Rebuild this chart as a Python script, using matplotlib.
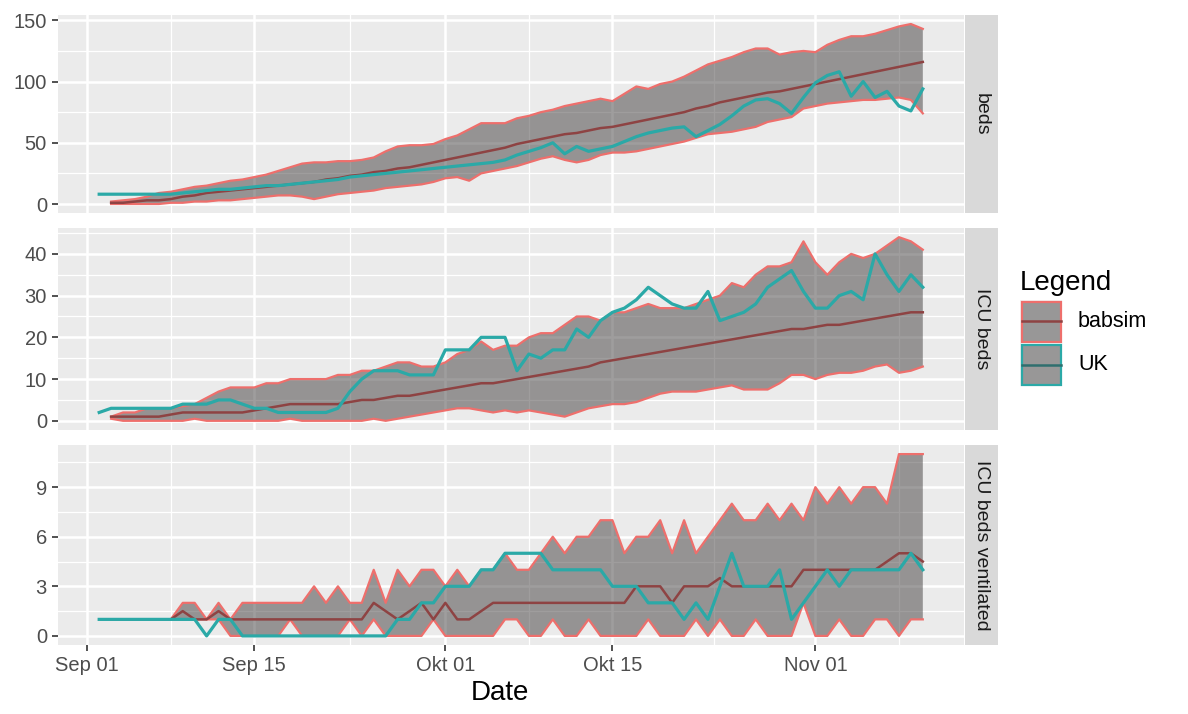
import numpy as np
import matplotlib
matplotlib.use("Agg")
import matplotlib.pyplot as plt
import matplotlib.dates as mdates
from matplotlib.patches import Rectangle
from matplotlib.lines import Line2D

plt.rcParams['font.family'] = ['Liberation Sans', 'DejaVu Sans']

# ---------------- data ----------------
panel_names = ["beds", "ICU beds", "ICU beds ventilated"]
legend_labels = ["babsim", "UK"]
uk_start = "2020-09-02"   # first UK observation
sim_start = "2020-09-03"  # first babsim value

# beds
uk_beds = [8, 8, 8, 8, 8, 8, 8, 9, 10, 11,
           12, 12, 13, 14, 15, 15, 16, 17, 18, 19,
           20, 22, 23, 24, 25, 26, 27, 28, 29, 30,
           31, 32, 33, 34, 36, 40, 43, 46, 50, 41,
           47, 43, 45, 47, 51, 55, 58, 60, 62, 63,
           55, 60, 65, 72, 80, 85, 86, 82, 74, 87,
           99, 105, 108, 88, 100, 87, 92, 80, 76, 94]
sim_beds_med = [1, 1, 2, 3, 3, 4, 6, 7, 9,
                10, 11, 12, 13, 14, 15, 16, 17, 18, 20,
                21, 23, 24, 26, 27, 29, 30, 32, 34, 36,
                38, 40, 42, 44, 46, 49, 51, 53, 55, 57,
                58, 60, 62, 63, 65, 67, 69, 71, 73, 75,
                78, 80, 83, 85, 87, 89, 91, 92, 94, 96,
                98, 100, 102, 104, 106, 108, 110, 112, 114, 116]
sim_beds_hi = [2, 3, 4, 6, 9, 10, 12, 14, 15,
               17, 19, 20, 22, 24, 27, 30, 33, 34, 34,
               35, 35, 36, 38, 43, 47, 48, 48, 49, 53,
               56, 61, 66, 66, 66, 70, 72, 75, 77, 80,
               82, 84, 86, 84, 90, 96, 94, 98, 100, 104,
               109, 114, 117, 120, 124, 127, 127, 122, 124, 125,
               124, 130, 134, 137, 137, 139, 142, 145, 147, 143]
sim_beds_lo = [0, 0, 0, 0, 0, 1, 1, 2, 2,
               3, 3, 4, 5, 6, 7, 7, 6, 4, 6,
               8, 9, 10, 11, 13, 14, 15, 16, 18, 21,
               22, 19, 25, 27, 29, 31, 34, 37, 39, 36,
               34, 36, 40, 42, 42, 43, 45, 47, 49, 51,
               54, 57, 58, 59, 61, 63, 67, 69, 71, 78,
               80, 82, 83, 84, 85, 85, 86, 87, 85, 74]

# ICU beds
uk_icu = [2, 3, 3, 3, 3, 3, 3, 4, 4, 4,
          5, 5, 4, 3, 3, 2, 2, 2, 2, 2,
          3, 7, 10, 12, 12, 12, 11, 11, 11, 17,
          17, 17, 20, 20, 20, 12, 16, 15, 17, 17,
          22, 20, 24, 26, 27, 29, 32, 30, 28, 27,
          27, 31, 24, 25, 26, 28, 32, 34, 36, 31,
          27, 27, 30, 31, 29, 40, 35, 31, 35, 32]
sim_icu_med = [1, 1, 1, 1, 1, 1.5, 2, 2, 2,
               2, 2, 2, 2.5, 3, 3.5, 4, 4, 4, 4,
               4, 4.5, 5, 5, 5.5, 6, 6, 6.5, 7, 7.5,
               8, 8.5, 9, 9, 9.5, 10, 10.5, 11, 11.5, 12,
               12.5, 13, 14, 14.5, 15, 15.5, 16, 16.5, 17, 17.5,
               18, 18.5, 19, 19.5, 20, 20.5, 21, 21.5, 22, 22,
               22.5, 23, 23, 23.5, 24, 24.5, 25, 25.5, 26, 26]
sim_icu_hi = [1, 2, 2, 3, 3, 3, 3.5, 4, 5.5,
              7, 8, 8, 8, 9, 9, 10, 10, 10, 10,
              11, 11, 12, 12, 13, 14, 14, 13, 13, 14,
              16, 17, 19, 17, 18, 18, 20, 21, 21, 23,
              25, 25, 24, 26, 26, 27, 28, 27, 27, 27,
              28, 29, 30, 33, 32, 35, 37, 37, 38, 43,
              38, 35, 38, 40, 39, 40, 42, 44, 43, 41]
sim_icu_lo = [0.5, 0, 0, 0, 0, 0, 0, 0.5, 0,
              0, 0, 0, 0, 0, 0, 0.5, 0, 0, 0,
              0, 0, 0, 0.5, 0, 0.5, 1, 1.5, 2, 2.5,
              3, 3, 2.5, 2, 2.5, 2, 2.5, 2, 1.5, 1,
              2, 3, 3.5, 4, 4, 4.5, 5.5, 6.5, 7, 7,
              7, 7.5, 8, 8.5, 7.5, 7.5, 7.5, 9, 11, 11,
              10, 11, 11.5, 11.5, 12, 13, 13.5, 11.5, 12, 13]

# ICU beds ventilated
uk_vent = [1, 1, 1, 1, 1, 1, 1, 1, 1, 0,
           1, 1, 0, 0, 0, 0, 0, 0, 0, 0,
           0, 0, 0, 0, 0, 1, 1, 2, 2, 3,
           3, 3, 4, 4, 5, 5, 5, 5, 4, 4,
           4, 4, 4, 3, 3, 3, 2, 2, 2, 1,
           2, 1, 3, 5, 3, 3, 3, 4, 1, 2,
           3, 4, 3, 4, 4, 4, 4, 4, 5, 4]
sim_vent_med = [1, 1, 1, 1, 1, 1, 1.5, 1, 1,
                1.5, 1, 1, 1, 1, 1, 1, 1, 1, 1,
                1, 1, 1, 2, 1.5, 1, 1.5, 2, 1, 2,
                1, 1, 1.5, 2, 2, 2, 2, 2, 2, 2,
                2, 2, 2, 2, 2, 3, 3, 3, 2, 3,
                3, 3, 3.5, 3, 3, 3, 3, 3, 3, 4,
                4, 4, 4, 4, 4, 4, 4.5, 5, 5, 4.5]
sim_vent_hi = [1, 1, 1, 1, 1, 1, 2, 2, 1,
               2, 1, 2, 2, 2, 2, 2, 2, 3, 2,
               3, 2, 2, 4, 2, 4, 3, 4, 4, 3,
               4, 3, 4, 4, 5, 4, 4, 5, 6, 5,
               6, 6, 7, 7, 5, 6, 6, 7, 5, 7,
               5, 6, 7, 8, 7, 7, 8, 7, 8, 7,
               9, 8, 9, 8, 9, 9, 8, 11, 11, 11]
sim_vent_lo = [1, 1, 1, 1, 1, 1, 1, 1, 1,
               1, 0, 0, 0, 0, 0, 1, 0, 0, 0,
               0, 1, 0, 1, 0, 0, 0, 0, 1, 0,
               0, 0, 0, 0, 1, 1, 0, 0, 1, 0,
               0, 1, 0, 0, 0, 0, 1, 0, 0, 0,
               1, 0, 1, 0, 0, 1, 0, 0, 0, 2,
               0, 0, 1, 0, 0, 1, 1, 0, 1, 1]

x_tick_dates = ["2020-09-01", "2020-09-15", "2020-10-01", "2020-10-15", "2020-11-01"]
x_tick_labels = ["Sep 01", "Sep 15", "Okt 01", "Okt 15", "Nov 01"]
x_minor_dates = ["2020-09-08", "2020-09-23", "2020-10-08", "2020-10-23T12:00", "2020-11-08"]
y_major = [[0, 50, 100, 150], [0, 10, 20, 30, 40], [0, 3, 6, 9]]
y_minor = [[25, 75, 125], [5, 15, 25, 35, 45], [1.5, 4.5, 7.5, 10.5]]

series = [
    (uk_beds, sim_beds_med, sim_beds_lo, sim_beds_hi),
    (uk_icu, sim_icu_med, sim_icu_lo, sim_icu_hi),
    (uk_vent, sim_vent_med, sim_vent_lo, sim_vent_hi),
]

# ---------------- styling ----------------
W, H = 1188, 714
panel_bg = '#EBEBEB'
fill_col = (0.25, 0.24, 0.24, 0.5)
red = '#EE6F6C'
med_col = '#8E4343'
teal = '#2BA9A7'
tick_fs = 14.5
title_fs = 20


def fx(px):
    return px / W


def fy(py):
    return 1 - py / H


fig = plt.figure(figsize=(W / 100, H / 100), dpi=100)

left_px, right_px = 58, 964
panels_px = [(15, 213), (228, 430), (445, 645)]
strip_l, strip_r = 965, 998

x_major = mdates.date2num(np.array(x_tick_dates, dtype='datetime64[m]'))
x_minor = mdates.date2num(np.array(x_minor_dates, dtype='datetime64[m]'))

for i, (top, bot) in enumerate(panels_px):
    uk, med, lo, hi = series[i]
    uk_x = mdates.date2num(np.datetime64(uk_start) + np.arange(len(uk)))
    sim_x = mdates.date2num(np.datetime64(sim_start) + np.arange(len(med)))

    ax = fig.add_axes([fx(left_px), fy(bot), (right_px - left_px) / W, (bot - top) / H])
    ax.set_facecolor(panel_bg)
    for s in ax.spines.values():
        s.set_visible(False)

    ax.fill_between(sim_x, lo, hi, facecolor=fill_col, edgecolor='none', linewidth=0, zorder=2)
    ax.plot(sim_x, hi, color=red, lw=1.6, zorder=3, solid_joinstyle='round')
    ax.plot(sim_x, lo, color=red, lw=1.6, zorder=3, solid_joinstyle='round')
    ax.plot(sim_x, med, color=med_col, lw=1.8, zorder=4)
    ax.plot(uk_x, uk, color=teal, lw=2.3, zorder=5)

    xmin = min(uk_x.min(), sim_x.min())
    xmax = max(uk_x.max(), sim_x.max())
    xr = xmax - xmin
    ax.set_xlim(xmin - 0.05 * xr, xmax + 0.05 * xr)
    allv = np.concatenate([uk, med, lo, hi])
    ymin, ymax = allv.min(), allv.max()
    yr = ymax - ymin
    ax.set_ylim(ymin - 0.05 * yr, ymax + 0.05 * yr)

    ax.set_xticks(x_major)
    ax.set_xticks(x_minor, minor=True)
    ax.set_yticks(y_major[i])
    ax.set_yticks(y_minor[i], minor=True)
    ax.set_yticklabels([str(v) for v in y_major[i]])
    ax.set_axisbelow(True)
    ax.grid(which='major', color='white', lw=1.8)
    ax.grid(which='minor', color='white', lw=0.9)
    ax.tick_params(which='minor', length=0)
    ax.tick_params(which='major', length=4.5, width=1.2, color='#333333',
                   labelsize=tick_fs, labelcolor='#4D4D4D', pad=3.5)
    if i < 2:
        ax.tick_params(axis='x', which='major', length=0, labelbottom=False)
    else:
        ax.set_xticklabels(x_tick_labels)

    # facet strip
    sax = fig.add_axes([fx(strip_l), fy(bot), (strip_r - strip_l) / W, (bot - top) / H])
    sax.set_facecolor('#D9D9D9')
    sax.set_xticks([])
    sax.set_yticks([])
    for s in sax.spines.values():
        s.set_visible(False)
    sax.text(0.5, 0.5, panel_names[i], rotation=270, ha='center', va='center',
             fontsize=14, color='#1A1A1A', transform=sax.transAxes)

fig.text(fx(500), fy(693), 'Date', ha='center', va='center',
         fontsize=title_fs, color='black')

# ---------------- legend (drawn by hand, ggplot style) ----------------
fig.text(fx(1020), fy(283), 'Legend', ha='left', va='center',
         fontsize=title_fs, color='black')
key_l, key_w, key_h, key_top = 1020, 42, 43, 300
key_edges = [red, teal]
key_lines = [med_col, '#2F6F6E']
for k, lab in enumerate(legend_labels):
    ktop = key_top + k * key_h
    fig.add_artist(Rectangle((fx(key_l), fy(ktop + key_h)), key_w / W, key_h / H,
                             transform=fig.transFigure, facecolor='#F2F2F2',
                             edgecolor='none'))
    fig.add_artist(Rectangle((fx(key_l + 1.5), fy(ktop + key_h - 1.5)), (key_w - 3) / W,
                             (key_h - 3) / H, transform=fig.transFigure,
                             facecolor=fill_col, edgecolor=key_edges[k], linewidth=1.6))
    yc = fy(ktop + key_h / 2)
    fig.add_artist(Line2D([fx(key_l + 1.5), fx(key_l + key_w - 1.5)], [yc, yc],
                          transform=fig.transFigure, color=key_lines[k], lw=1.8))
    fig.text(fx(key_l + key_w + 16), yc, lab, ha='left', va='center',
             fontsize=15.5, color='black')

fig.savefig('out.png', dpi=100)
